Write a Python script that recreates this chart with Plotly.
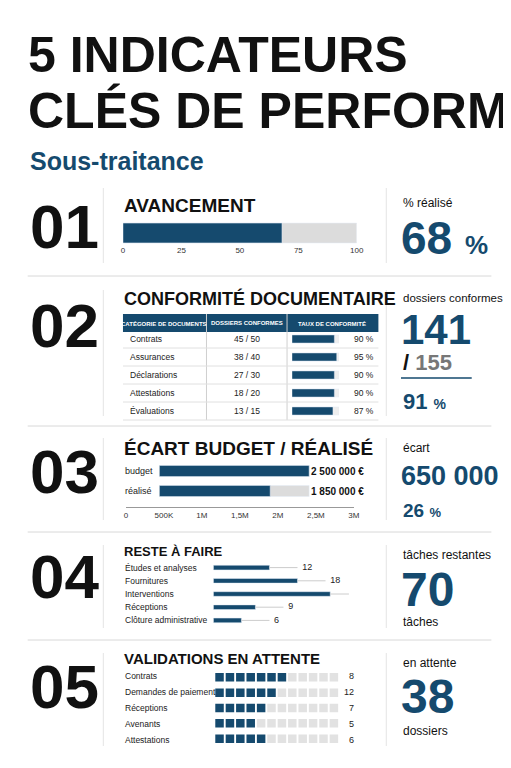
import plotly.graph_objects as go

W, H = 511, 768
NAVY = "#154a6e"
GREY = "#dcdcdc"
COND = "Liberation Sans Narrow, Liberation Sans"

# --- data ---
avancement = 68
doc_cats = ["Contrats", "Assurances", "Déclarations", "Attestations", "Évaluations"]
doc_ok = [45, 38, 27, 18, 13]
doc_tot = [50, 40, 30, 20, 15]
doc_pct = [90, 95, 90, 90, 87]
budget_labels = ["budget", "réalisé"]
budget_vals = [2500000, 1850000]
budget_ticks = [0, 500000, 1000000, 1500000, 2000000, 2500000, 3000000]
budget_ticktext = ["0", "500K", "1M", "1,5M", "2M", "2,5M", "3M"]
reste_cats = ["Études et analyses", "Fournitures", "Interventions", "Réceptions", "Clôture administrative"]
reste_vals = [12, 18, 25, 9, 6]
valid_cats = ["Contrats", "Demandes de paiement", "Réceptions", "Avenants", "Attestations"]
valid_vals = [8, 12, 7, 5, 6]
valid_filled = [7, 6, 5, 4, 5]
valid_cells = 12


def px(x):
    return x / W


def py(y):
    return 1 - y / H


fig = go.Figure()
ann = []
shapes = []


def text(x, y, t, size, color="#111", family="Liberation Sans", weight="normal", xanchor="left"):
    ann.append(dict(x=px(x), y=py(y), xref="paper", yref="paper", text=t, showarrow=False,
                    xanchor=xanchor, yanchor="middle",
                    font=dict(size=size, color=color, family=family, weight=weight)))


def line(x0, y0, x1, y1, color="#d8d8d8", width=1):
    shapes.append(dict(type="line", xref="paper", yref="paper", x0=px(x0), y0=py(y0),
                       x1=px(x1), y1=py(y1), line=dict(color=color, width=width)))


def rect(x0, y0, x1, y1, color):
    shapes.append(dict(type="rect", xref="paper", yref="paper", x0=px(x0), y0=py(y0),
                       x1=px(x1), y1=py(y1), fillcolor=color, line=dict(width=0), layer="below"))


def dom(a, b, n):
    return [a / n, b / n]


def ydom(top, bot):
    return [py(bot), py(top)]


# titles
text(16, 47, "5 INDICATEURS", 50, "#111", COND, "bold")
text(16, 103, "CLÉS DE PERFORMANCE", 50, "#111", COND, "bold")
text(18, 153, "Sous-traitance", 25, NAVY, "Liberation Sans", "bold")

# dividers
for y in [268, 418, 524, 632]:
    line(18, y, 490, y)
for top, bot in [(180, 255), (282, 408), (430, 512), (537, 620), (645, 738)]:
    line(95, top, 95, bot, "#e4e4e4")
    line(383, top, 383, bot, "#e4e4e4")

for num, y in zip(["01", "02", "03", "04", "05"], [218, 317, 463, 568, 678]):
    text(18, y, num, 62, "#111", COND, "bold")

# --- 01 ---
text(114, 197, "AVANCEMENT", 19, "#111", COND, "bold")
fig.add_trace(go.Bar(x=[100], y=[0], orientation="h", marker_color=GREY, width=0.9,
                     xaxis="x", yaxis="y", hoverinfo="skip"))
fig.add_trace(go.Bar(x=[avancement], y=[0], orientation="h", marker_color=NAVY, width=0.9,
                     xaxis="x", yaxis="y"))
text(398, 195, "% réalisé", 12)
text(396, 230, f"{avancement} <span style='font-size:26px'>%</span>", 46, NAVY, COND, "bold")

# --- 02 ---
text(114, 290, "CONFORMITÉ DOCUMENTAIRE", 18, "#111", COND, "bold")
rect(115, 306, 375, 324, NAVY)
for x in [200, 282]:
    line(x, 306, x, 412, "#cfcfcf")
text(157, 315, "CATÉGORIE DE DOCUMENTS", 6, "white", COND, "bold", "center")
text(241, 315, "DOSSIERS CONFORMES", 6, "white", COND, "bold", "center")
text(328, 315, "TAUX DE CONFORMITÉ", 6, "white", COND, "bold", "center")
for i, c in enumerate(doc_cats):
    y = 331 + 18 * i
    line(115, y + 9, 375, y + 9, "#e0e0e0")
    text(120, y, c, 8.5, "#222", COND)
    text(241, y, f"{doc_ok[i]} / {doc_tot[i]}", 8.5, "#222", COND, xanchor="center")
    text(373, y, f"{doc_pct[i]} %", 8.5, "#222", COND, xanchor="right")
fig.add_trace(go.Bar(x=[100] * 5, y=doc_cats, orientation="h", marker_color="#eeeeee", width=0.45,
                     xaxis="x2", yaxis="y2", hoverinfo="skip"))
fig.add_trace(go.Bar(x=doc_pct, y=doc_cats, orientation="h", marker_color=NAVY, width=0.45,
                     xaxis="x2", yaxis="y2"))
text(398, 290, "dossiers conformes", 11.5)
text(396, 321, str(sum(doc_ok)), 42, NAVY, COND, "bold")
text(398, 354, "/ <span style='color:#777'>%d</span>" % sum(doc_tot), 22, "#111", COND, "bold")
line(398, 370, 470, 370, NAVY, 1.5)
text(398, 393, f"{round(100 * sum(doc_ok) / sum(doc_tot))} <span style='font-size:14px'>%</span>",
     22, NAVY, COND, "bold")

# --- 03 ---
text(114, 440, "ÉCART BUDGET / RÉALISÉ", 19, "#111", COND, "bold")
fig.add_trace(go.Bar(x=[budget_vals[0]] * 2, y=budget_labels, orientation="h", marker_color=GREY,
                     width=0.55, xaxis="x3", yaxis="y3", hoverinfo="skip"))
fig.add_trace(go.Bar(x=budget_vals, y=budget_labels, orientation="h", marker_color=NAVY,
                     width=0.55, xaxis="x3", yaxis="y3"))
for lab, v, y in zip(budget_labels, budget_vals, [463, 483]):
    text(115, y, lab, 9, "#222", COND)
    text(362, y, f"{v:,} €".replace(",", " "), 10, "#111", COND, "bold", "right")
fig.add_trace(go.Scatter(x=[0, 3000000], y=[0, 0], mode="markers", marker_opacity=0,
                         xaxis="x4", yaxis="y4", hoverinfo="skip"))
ecart = budget_vals[0] - budget_vals[1]
text(398, 440, "écart", 12)
text(396, 468, f"{ecart:,}".replace(",", " ") + " <span style='font-size:18px'>€</span>", 27, NAVY, COND, "bold")
text(398, 502, f"{round(100 * ecart / budget_vals[0])} <span style='font-size:13px'>%</span>",
     19, NAVY, COND, "bold")

# --- 04 ---
text(114, 543, "RESTE À FAIRE", 13, "#111", COND, "bold")
for i, (c, v) in enumerate(zip(reste_cats, reste_vals)):
    y = 560 + 13 * i
    text(115, y, c, 8.5, "#222", COND)
    fig.add_trace(go.Scatter(x=[v, v + 6], y=[c, c], mode="lines", line=dict(color="#cccccc", width=1),
                             xaxis="x5", yaxis="y5", hoverinfo="skip"))
fig.add_trace(go.Bar(x=reste_vals, y=reste_cats, orientation="h", marker_color=NAVY, width=0.35,
                     xaxis="x5", yaxis="y5"))
fig.add_trace(go.Scatter(x=[v + 7 for v in reste_vals], y=reste_cats, mode="text",
                         text=[str(v) for v in reste_vals], textposition="middle right",
                         textfont=dict(size=9, color="#222", family=COND), xaxis="x5", yaxis="y5"))
text(398, 547, "tâches restantes", 12)
text(396, 581, str(sum(reste_vals)), 48, NAVY, COND, "bold")
text(398, 614, "tâches", 12)

# --- 05 ---
text(114, 650, "VALIDATIONS EN ATTENTE", 15, "#111", COND, "bold")
wx, wy, wc = [], [], []
for i, (c, f) in enumerate(zip(valid_cats, valid_filled)):
    y = 668 + 16 * i
    text(115, y, c, 8.5, "#222", COND)
    text(352, y, str(valid_vals[i]), 9, "#222", COND, xanchor="right")
    for k in range(valid_cells):
        wx.append(k)
        wy.append(c)
        wc.append(NAVY if k < f else "#e2e2e2")
fig.add_trace(go.Scatter(x=wx, y=wy, mode="markers", xaxis="x6", yaxis="y6",
                         marker=dict(symbol="square", size=8.5, color=wc, line_width=0)))
text(398, 655, "en attente", 12)
text(396, 688, str(sum(valid_vals)), 48, NAVY, COND, "bold")
text(398, 723, "dossiers", 12)

hidden = dict(visible=False, fixedrange=True)
fig.update_layout(
    width=W, height=H, margin=dict(l=0, r=0, t=0, b=0), paper_bgcolor="white",
    plot_bgcolor="rgba(0,0,0,0)", showlegend=False, barmode="overlay",
    annotations=ann, shapes=shapes,
    xaxis=dict(domain=dom(115, 353, W), range=[0, 100], tickvals=[0, 25, 50, 75, 100],
               tickfont=dict(size=8, color="#333", family=COND), showgrid=False, zeroline=False,
               ticks="", side="bottom"),
    yaxis=dict(domain=ydom(214, 236), range=[-0.5, 0.5], visible=False),
    xaxis2=dict(domain=dom(287, 335, W), range=[0, 100], anchor="y2", **hidden),
    yaxis2=dict(domain=ydom(322, 412), anchor="x2", autorange="reversed", **hidden),
    xaxis3=dict(domain=dom(152, 335, W), range=[0, 3000000], anchor="y3", **hidden),
    yaxis3=dict(domain=ydom(453, 493), anchor="x3", autorange="reversed", **hidden),
    xaxis4=dict(domain=dom(118, 350, W), range=[0, 3000000], anchor="y4", tickvals=budget_ticks,
                ticktext=budget_ticktext, tickfont=dict(size=8, color="#333", family=COND),
                showgrid=False, zeroline=False, showline=True, linecolor="#999"),
    yaxis4=dict(domain=ydom(498, 499), anchor="x4", **hidden),
    xaxis5=dict(domain=dom(207, 345, W), range=[0, 29], anchor="y5", **hidden),
    yaxis5=dict(domain=ydom(553, 619), anchor="x5", autorange="reversed", **hidden),
    xaxis6=dict(domain=dom(208, 335, W), range=[-0.5, valid_cells - 0.5], anchor="y6", **hidden),
    yaxis6=dict(domain=ydom(660, 740), anchor="x6", autorange="reversed", **hidden),
)
fig.write_html("out.html")
